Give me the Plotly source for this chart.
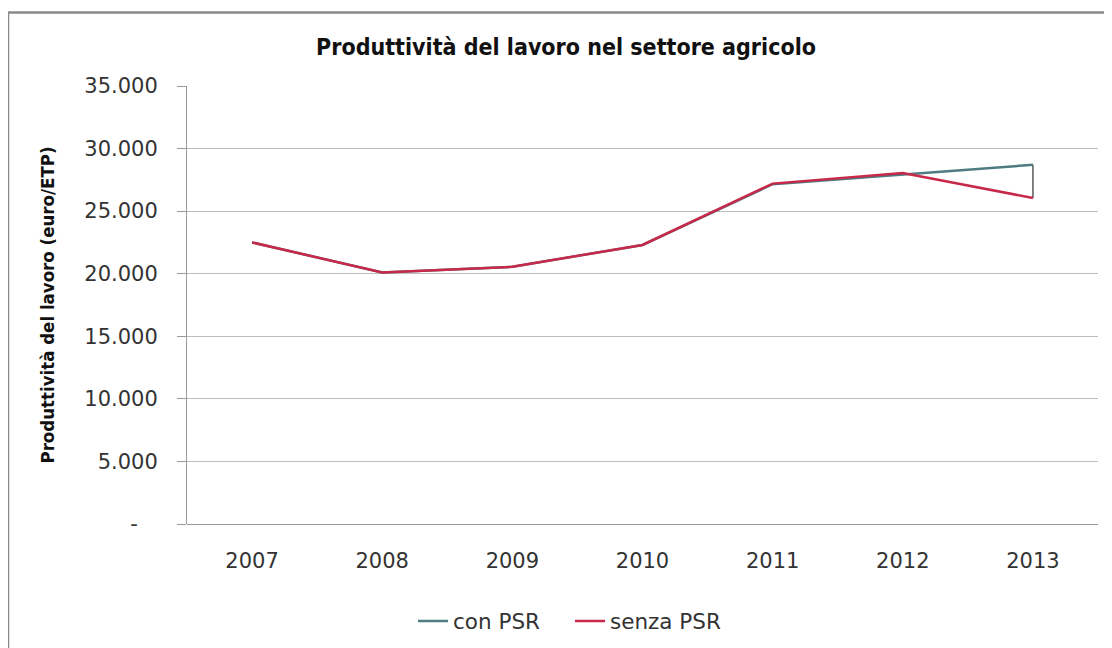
import plotly.graph_objects as go

years = ["2007", "2008", "2009", "2010", "2011", "2012", "2013"]
con_psr = [22500, 20100, 20550, 22300, 27150, 27950, 28700]
senza_psr = [22500, 20100, 20550, 22300, 27200, 28050, 26050]
y_ticks = [0, 5000, 10000, 15000, 20000, 25000, 30000, 35000]
y_tick_labels = ["-\u00a0\u00a0\u00a0", "5.000", "10.000", "15.000", "20.000", "25.000", "30.000", "35.000"]

FONT = "DejaVu Sans"
OFF = 8  # page body margin offset

# high-low lines between the two series at each category
hl_x, hl_y = [], []
for yr, a, b in zip(years, con_psr, senza_psr):
    hl_x += [yr, yr, None]
    hl_y += [a, b, None]

fig = go.Figure()
fig.add_trace(go.Scatter(x=hl_x, y=hl_y, mode="lines", showlegend=False,
                         line=dict(color="#5a5a5a", width=1.5), hoverinfo="skip"))
fig.add_trace(go.Scatter(x=years, y=con_psr, mode="lines", name="con PSR",
                         line=dict(color="#4f7b82", width=2.5)))
fig.add_trace(go.Scatter(x=years, y=senza_psr, mode="lines", name="senza PSR",
                         line=dict(color="#c8294a", width=2.5)))

L, T, PW, PH = 187 - OFF, 86 - OFF, 911, 438
W, H = 1112 - OFF, 648 - OFF

fig.update_layout(
    width=W, height=H,
    margin=dict(l=L, r=W - L - PW, t=T, b=H - T - PH, autoexpand=False),
    paper_bgcolor="white", plot_bgcolor="white",
    title=dict(text="<b>Produttività del lavoro nel settore agricolo</b>",
               x=(566 - 187) / PW, xref="paper", xanchor="center",
               y=1 - (47 - OFF) / H, yanchor="middle",
               font=dict(family="DejaVu Sans Condensed, " + FONT, size=23, color="#111111")),
    showlegend=True,
    legend=dict(orientation="h", x=(570 - 187) / PW, xanchor="center",
                y=-(621 - 524) / PH, yanchor="middle",
                font=dict(family=FONT, size=21.5, color="#333333"),
                entrywidth=112, entrywidthmode="pixels",
                bgcolor="rgba(0,0,0,0)"),
    xaxis=dict(type="category", range=[-0.5, 6.5], showgrid=False, automargin=False,
               showline=False, ticks="", zeroline=False, ticklabelstandoff=22,
               tickfont=dict(family=FONT, size=21, color="#333333")),
    yaxis=dict(range=[0, 35000], tickvals=y_ticks, ticktext=y_tick_labels,
               automargin=False,
               showgrid=True, gridcolor="#bdbdbd", gridwidth=1,
               showline=True, linecolor="#9a9a9a", linewidth=1,
               ticks="outside", ticklen=9, tickcolor="#9a9a9a",
               ticklabelstandoff=15,
               zeroline=True, zerolinecolor="#9a9a9a", zerolinewidth=1,
               tickfont=dict(family=FONT, size=21, color="#333333"),
               title=dict(text="<b>Produttività del lavoro (euro/ETP)</b>",
                          font=dict(family="DejaVu Sans Condensed, " + FONT, size=18.5, color="#111111"),
                          standoff=24)),
    shapes=[dict(type="rect", xref="paper", yref="paper",
                 x0=(8 - 187) / PW, x1=1.3, y0=-0.6, y1=1 + (86 - 12.5) / PH,
                 line=dict(color="#8a8a8a", width=2.5), layer="below")],
)

fig.write_html("out.html")
